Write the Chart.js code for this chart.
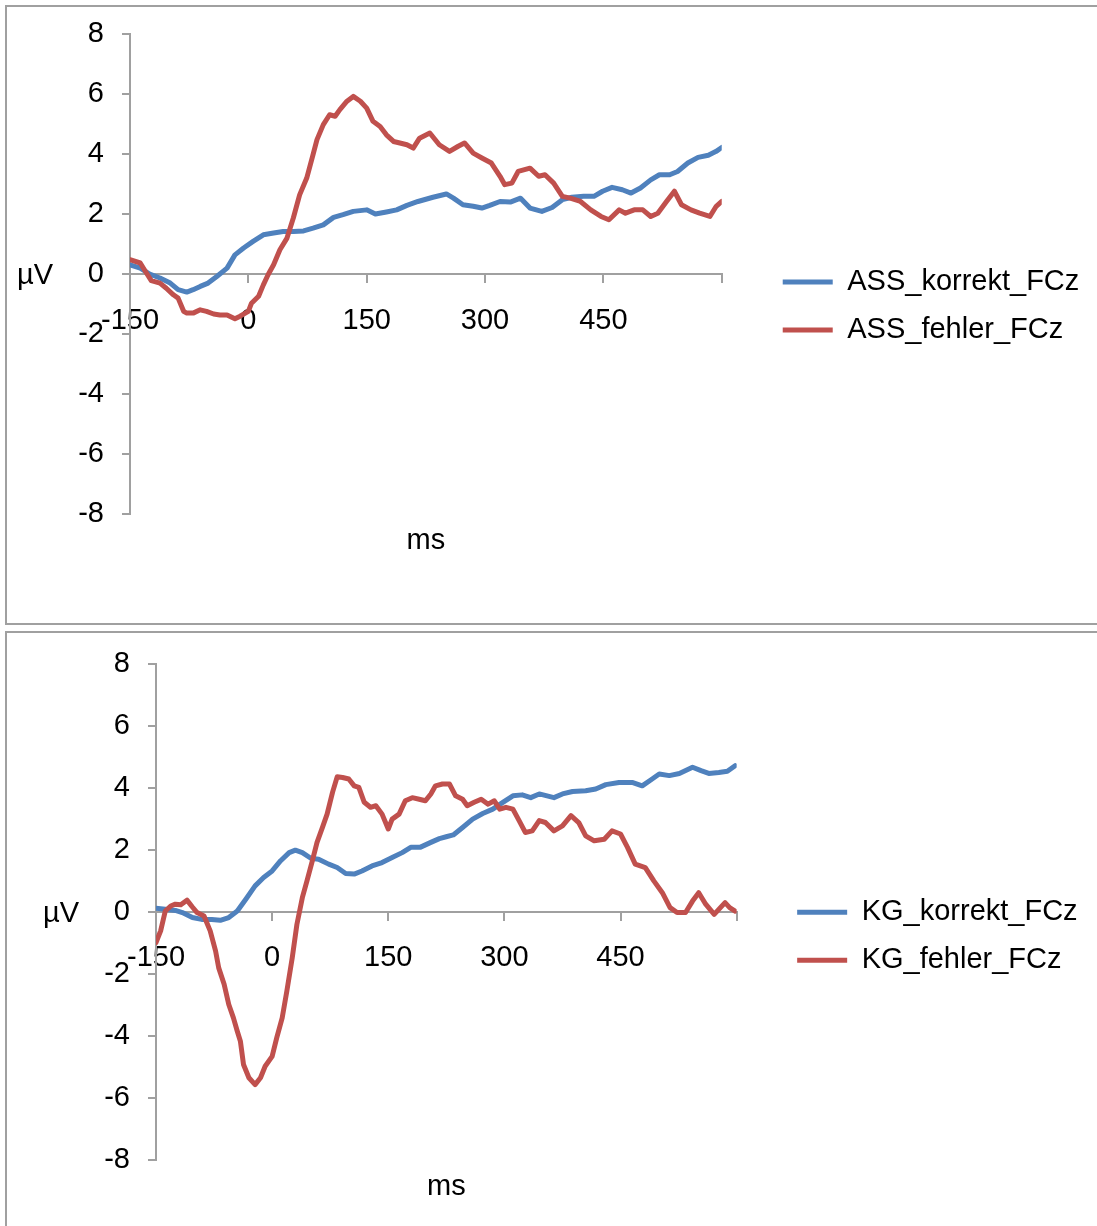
<!DOCTYPE html>
<html>
<head>
<meta charset="utf-8">
<script src="https://cdn.jsdelivr.net/npm/chart.js@4/dist/chart.umd.min.js"></script>
<style>
  html, body { margin: 0; padding: 0; background: #fff; overflow: hidden; width: 1097px; height: 1226px; }
  .box { position: absolute; left: 5px; width: 1200px; border: 2px solid #a0a0a0; box-sizing: border-box; background: #fff; }
  #box1 { top: 5px; height: 620px; }
  #box2 { top: 631px; height: 700px; }
  canvas { position: absolute; left: 0; top: 0; }
</style>
</head>
<body>
<div class="box" id="box1"><canvas id="chart1" width="1090" height="616"></canvas></div>
<div class="box" id="box2"><canvas id="chart2" width="1090" height="613"></canvas></div>
<script>
// ms, µV pairs
var assKorrektMs = [-150,-137,-125,-112,-99,-89,-78,-70,-61,-51,-40,-27,-17,-6,6,19,32,44,57,70,82,95,108,120,133,150,161,175,188,201,215,234,251,260,272,285,296,306,319,332,345,357,372,385,398,410,425,438,449,461,474,485,497,510,521,534,544,557,570,583,593,600]
var assKorrekt = [0.31,0.2,0,-0.13,-0.3,-0.52,-0.6,-0.52,-0.41,-0.3,-0.08,0.2,0.64,0.87,1.09,1.31,1.37,1.42,1.42,1.44,1.53,1.64,1.89,1.98,2.09,2.14,2.0,2.07,2.14,2.29,2.42,2.56,2.67,2.53,2.31,2.26,2.2,2.29,2.42,2.4,2.53,2.2,2.09,2.22,2.48,2.56,2.59,2.59,2.76,2.89,2.81,2.7,2.87,3.14,3.31,3.31,3.42,3.7,3.89,3.96,4.09,4.22]

var assFehlerMs = [-150,-137,-129,-123,-112,-104,-95,-89,-82,-78,-70,-61,-53,-44,-36,-27,-17,-11,0,4,13,19,25,32,40,49,57,65,74,82,87,95,103,110,116,125,133,142,150,158,167,175,184,192,201,209,217,230,242,255,266,274,285,296,308,319,325,334,342,357,368,376,387,398,408,421,434,447,457,470,478,489,500,510,519,530,540,549,561,572,585,593,600]
var assFehler = [0.48,0.37,0.03,-0.22,-0.3,-0.47,-0.69,-0.8,-1.24,-1.3,-1.3,-1.19,-1.24,-1.33,-1.36,-1.36,-1.49,-1.41,-1.24,-0.97,-0.74,-0.36,-0.02,0.31,0.81,1.2,1.87,2.64,3.2,3.98,4.48,4.98,5.31,5.26,5.48,5.76,5.92,5.76,5.53,5.09,4.92,4.64,4.42,4.37,4.31,4.2,4.53,4.7,4.31,4.09,4.26,4.37,4.03,3.87,3.7,3.26,2.98,3.03,3.42,3.53,3.26,3.31,3.03,2.59,2.53,2.42,2.14,1.92,1.81,2.14,2.03,2.14,2.14,1.92,2.03,2.42,2.76,2.31,2.14,2.03,1.92,2.26,2.42]

var kgKorrektMs = [-150,-138,-125,-116,-103,-91,-78,-67,-56,-45,-34,-22,-11,0,11,22,30,39,50,60,73,84,95,106,116,129,142,155,168,179,191,205,216,226,234,246,259,272,285,298,311,323,334,345,364,375,388,405,418,431,448,465,478,489,500,513,526,543,554,564,577,588,598]
var kgKorrekt = [0.12,0.09,0.05,-0.02,-0.18,-0.24,-0.24,-0.27,-0.18,0.03,0.41,0.84,1.11,1.32,1.65,1.91,1.99,1.91,1.73,1.7,1.54,1.43,1.24,1.22,1.32,1.48,1.59,1.75,1.91,2.08,2.08,2.24,2.36,2.43,2.48,2.72,2.99,3.17,3.31,3.53,3.74,3.77,3.68,3.8,3.68,3.8,3.88,3.9,3.96,4.1,4.17,4.17,4.06,4.25,4.44,4.39,4.46,4.66,4.55,4.46,4.49,4.53,4.71]

var kgFehlerMs = [-150,-144,-138,-131,-125,-118,-110,-103,-97,-88,-80,-73,-69,-62,-56,-50,-45,-41,-37,-30,-22,-15,-9,0,6,13,19,26,32,39,45,52,58,65,71,78,84,91,99,106,112,119,127,134,142,150,155,164,172,181,190,198,205,211,220,229,237,246,252,261,270,279,287,294,302,311,319,327,336,345,353,364,375,386,396,405,416,429,439,450,459,469,482,493,504,514,523,534,543,551,560,571,579,585,591,598]
var kgFehler = [-0.99,-0.61,0.03,0.19,0.25,0.23,0.38,0.16,-0.02,-0.13,-0.61,-1.26,-1.8,-2.33,-2.98,-3.41,-3.84,-4.16,-4.91,-5.34,-5.56,-5.34,-4.97,-4.65,-4.05,-3.41,-2.55,-1.47,-0.4,0.46,1.0,1.65,2.24,2.72,3.15,3.85,4.35,4.33,4.28,4.06,4.01,3.53,3.37,3.42,3.15,2.67,2.99,3.15,3.58,3.68,3.63,3.58,3.8,4.06,4.12,4.12,3.74,3.63,3.42,3.53,3.63,3.47,3.58,3.31,3.37,3.31,2.94,2.56,2.61,2.94,2.88,2.61,2.77,3.1,2.88,2.45,2.29,2.34,2.61,2.51,2.08,1.54,1.43,1.0,0.62,0.14,-0.02,-0.02,0.35,0.62,0.25,-0.08,0.14,0.3,0.14,0.03]

var xTicks = [-150, 0, 150, 300, 450]
var yTicks = [-8, -6, -4, -2, 0, 2, 4, 6, 8]

var blue = "#4F81BD"
var red = "#C0504D"
var gray = "#a0a0a0"
var fontFamily = '"Liberation Sans", Arial, sans-serif'

Chart.defaults.font.family = fontFamily
Chart.defaults.font.size = 29
Chart.defaults.color = "#000"

function pairs(xs, ys) {
    var out = []
    for (let i = 0; i < xs.length; i++) {
        out.push({x: xs[i], y: ys[i]})
    }
    return out
}

var uvLabel = {
    id: "uvLabel",
    afterDraw: function (chart) {
        var ctx = chart.ctx
        ctx.save()
        ctx.font = "29px " + fontFamily
        ctx.fillStyle = "#000"
        ctx.textAlign = "right"
        ctx.textBaseline = "middle"
        ctx.fillText("µV", chart.chartArea.left - 77, chart.scales.y.getPixelForValue(0) + 2)
        ctx.restore()
    }
}

function lineSet(label, xs, ys, color, order) {
    return {
        label: label,
        data: pairs(xs, ys),
        borderColor: color,
        backgroundColor: color,
        borderWidth: 5,
        borderCapStyle: "round",
        borderJoinStyle: "round",
        pointRadius: 0,
        tension: 0,
        fill: false,
        order: order
    }
}

function makeChart(id, names, series, lay) {
    var ctx = document.getElementById(id)
    return new Chart(ctx, {
        type: "line",
        data: {
            datasets: [
                lineSet(names[0], series[0], series[1], blue, 1),
                lineSet(names[1], series[2], series[3], red, 0)
            ]
        },
        options: {
            responsive: false,
            animation: false,
            devicePixelRatio: 1,
            layout: {padding: lay.padding},
            plugins: {
                tooltip: {enabled: false},
                legend: {
                    position: "right",
                    maxWidth: 400,
                    labels: {
                        usePointStyle: true,
                        pointStyle: "line",
                        pointStyleWidth: 50,
                        padding: 19,
                        color: "#000",
                        font: {size: 29},
                        sort: function (a, b) { return a.datasetIndex - b.datasetIndex }
                    }
                }
            },
            scales: {
                x: {
                    type: "linear",
                    position: {y: 0},
                    min: -150,
                    max: 600,
                    afterBuildTicks: function (scale) {
                        scale.ticks = xTicks.concat([600]).map(function (v) { return {value: v} })
                    },
                    ticks: {
                        padding: 21,
                        maxRotation: 0,
                        autoSkip: false,
                        callback: function (v) { return xTicks.indexOf(v) >= 0 ? String(v) : "" }
                    },
                    grid: {drawOnChartArea: false, tickLength: 8, color: gray, lineWidth: 2},
                    border: {color: gray, width: 2}
                },
                xt: {
                    type: "linear",
                    position: "bottom",
                    ticks: {display: false},
                    grid: {display: false, drawTicks: false},
                    border: {display: false},
                    title: {display: true, text: "ms", color: "#000", font: {size: 29}, padding: lay.msPad}
                },
                y: {
                    type: "linear",
                    position: "left",
                    min: -8,
                    max: 8,
                    afterBuildTicks: function (scale) {
                        scale.ticks = yTicks.map(function (v) { return {value: v} })
                    },
                    afterFit: function (scale) {
                        scale.width = lay.yWidth
                        scale.paddingTop = 0
                        scale.paddingBottom = 0
                    },
                    ticks: {padding: 18},
                    grid: {drawOnChartArea: false, tickLength: 8, color: gray, lineWidth: 2},
                    border: {color: gray, width: 2}
                },
                yr: {
                    type: "linear",
                    position: "right",
                    ticks: {display: false},
                    grid: {display: false},
                    border: {display: false},
                    afterFit: function (scale) { scale.width = lay.rWidth }
                }
            }
        },
        plugins: [uvLabel]
    })
}

makeChart("chart1", ["ASS_korrekt_FCz", "ASS_fehler_FCz"],
    [assKorrektMs, assKorrekt, assFehlerMs, assFehler],
    {padding: {top: 27, bottom: 45, left: 0, right: 7.7}, msPad: {top: 9, bottom: 20}, yWidth: 123, rWidth: 42})

makeChart("chart2", ["KG_korrekt_FCz", "KG_fehler_FCz"],
    [kgKorrektMs, kgKorrekt, kgFehlerMs, kgFehler],
    {padding: {top: 30.5, bottom: 36.8, left: 0, right: 9.4}, msPad: {top: 9, bottom: 5}, yWidth: 149, rWidth: 41.5})
</script>
</body>
</html>
